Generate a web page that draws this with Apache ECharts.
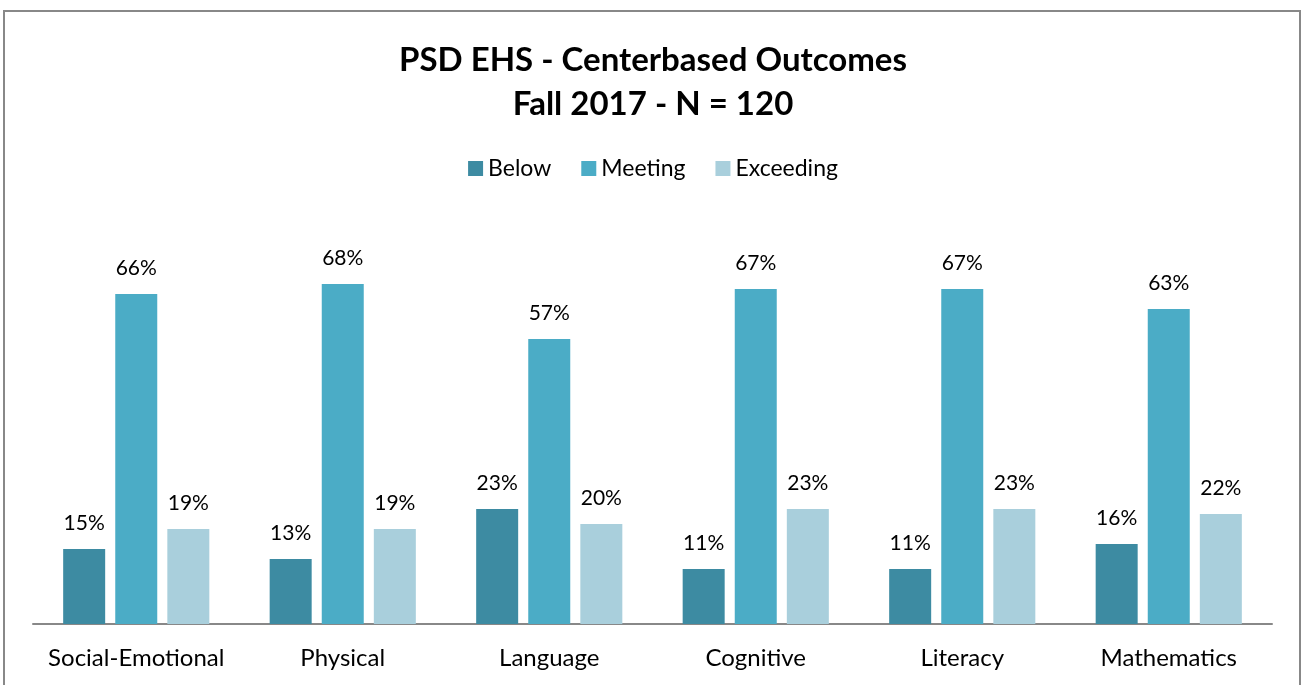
<!DOCTYPE html>
<html>
<head>
<meta charset="utf-8">
<script src="https://cdn.jsdelivr.net/npm/echarts@6/dist/echarts.min.js"></script>
<style>
  html, body { margin: 0; padding: 0; background: #fff; }
  #chart { width: 1306px; height: 685px; }
</style>
</head>
<body>
<div id="chart"></div>
<script>
  const categories = ['Social-Emotional', 'Physical', 'Language', 'Cognitive', 'Literacy', 'Mathematics']
  const below = [15, 13, 23, 11, 11, 16]
  const meeting = [66, 68, 57, 67, 67, 63]
  const exceeding = [19, 19, 20, 23, 23, 22]

  const font = 'Lato, "Open Sans", sans-serif'
  const label = {
    show: true,
    position: 'top',
    distance: 15,
    formatter: '{c}%',
    color: '#000',
    fontSize: 21,
    fontFamily: font,
  }

  const chart = echarts.init(document.getElementById('chart'))
  chart.setOption({
    animation: false,
    title: {
      text: 'PSD EHS - Centerbased Outcomes\nFall 2017 - N = 120',
      left: 'center',
      top: 33,
      textStyle: {
        fontSize: 33,
        fontWeight: 'bold',
        lineHeight: 44,
        color: '#000',
        fontFamily: font,
      },
    },
    legend: {
      data: ['Below', 'Meeting', 'Exceeding'],
      top: 152,
      left: 'center',
      itemWidth: 15,
      itemHeight: 15,
      itemGap: 30,
      icon: 'rect',
      textStyle: { fontSize: 23, color: '#000', fontFamily: font },
    },
    graphic: [
      {
        type: 'rect',
        shape: { x: 4, y: 11, width: 1296, height: 700 },
        style: { fill: 'none', stroke: '#888', lineWidth: 2 },
        silent: true,
      },
    ],
    grid: { left: 33, right: 34, top: 124, bottom: 61 },
    xAxis: {
      type: 'category',
      data: categories,
      axisLine: { lineStyle: { color: '#888', width: 2 } },
      axisTick: { show: false },
      axisLabel: { interval: 0, fontSize: 24, color: '#000', margin: 22, fontFamily: font },
    },
    yAxis: {
      type: 'value',
      min: 0,
      max: 100,
      show: false,
      splitLine: { show: false },
    },
    series: [
      { name: 'Below', type: 'bar', data: below, barWidth: 42, barGap: '24%', itemStyle: { color: '#3d8ba2' }, label: label },
      { name: 'Meeting', type: 'bar', data: meeting, barWidth: 42, barGap: '24%', itemStyle: { color: '#4bacc6' }, label: label },
      { name: 'Exceeding', type: 'bar', data: exceeding, barWidth: 42, barGap: '24%', itemStyle: { color: '#a9cfdc' }, label: label },
    ],
  })
</script>
</body>
</html>
